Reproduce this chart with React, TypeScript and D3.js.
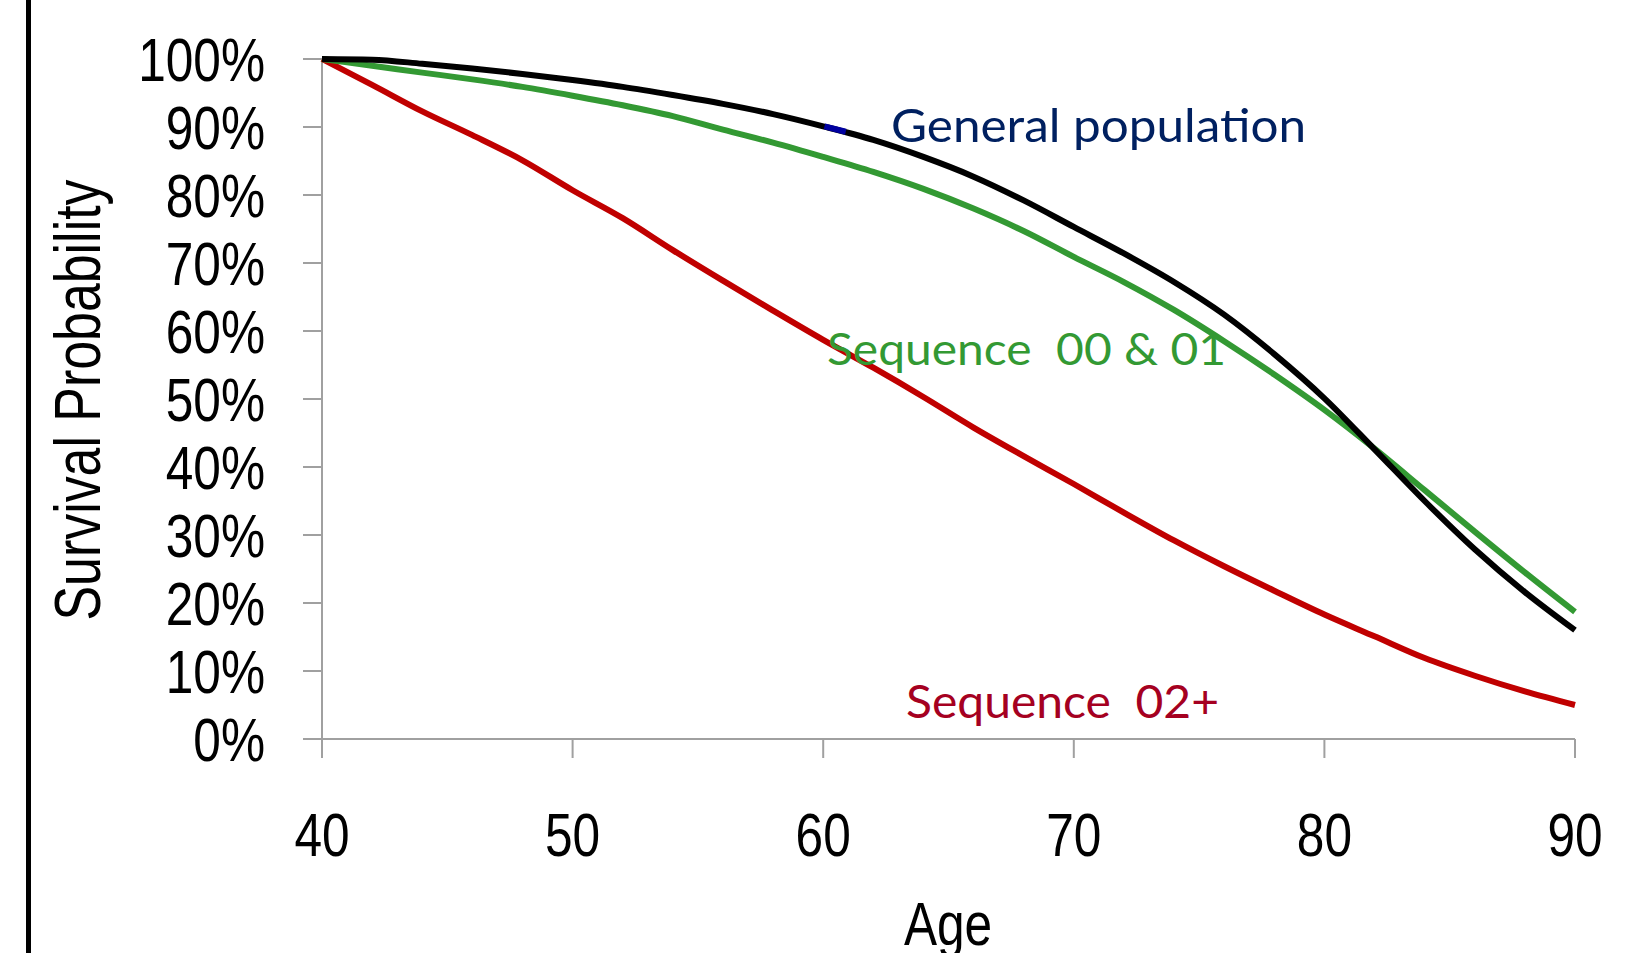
import * as d3 from "d3";

const ages = [40, 42, 44, 46, 48, 50, 52, 54, 56, 58, 60, 62, 64, 66, 68, 70, 72, 74, 76, 78, 80, 82, 84, 86, 88, 90];
const generalPop = [100, 99.9, 99.3, 98.6, 97.8, 96.9, 95.9, 94.7, 93.4, 91.9, 90.1, 88.1, 85.6, 82.7, 79.2, 75.3, 71.4, 67.2, 62.4, 56.6, 50.1, 42.6, 35.0, 27.9, 21.6, 16.0];
const seq0001 = [100, 99.0, 98.0, 97.0, 95.9, 94.6, 93.2, 91.6, 89.6, 87.7, 85.6, 83.4, 80.9, 78.0, 74.7, 70.9, 67.2, 63.1, 58.5, 53.6, 48.4, 42.7, 36.6, 30.5, 24.5, 18.7];
const seq02 = [100, 96.2, 92.3, 88.8, 85.1, 80.7, 76.6, 71.9, 67.4, 63.0, 58.7, 54.6, 50.3, 45.8, 41.6, 37.5, 33.3, 29.2, 25.4, 21.8, 18.3, 15.1, 11.9, 9.3, 7.0, 5.0];
const xTicks = [40, 50, 60, 70, 80, 90];
const yTicks = [0, 10, 20, 30, 40, 50, 60, 70, 80, 90, 100];

const W = 1647, H = 953;
const narrow = "'Liberation Sans', Arial, sans-serif";
const labelFont = "Lato, 'Open Sans', sans-serif";
const axisColor = "#a0a0a0";
const squeeze = 0.8;

export default function App() {
  const x = d3.scaleLinear([40, 90], [322, 1575]);
  const y = d3.scaleLinear([0, 100], [739, 59]);
  const line = d3.line<number>()
    .x((_, i) => x(ages[i]))
    .y((d) => y(d))
    .curve(d3.curveMonotoneX);

  const series = [
    { name: "seq02", values: seq02, color: "#c00000" },
    { name: "seq0001", values: seq0001, color: "#339933" },
    { name: "general", values: generalPop, color: "#000000" },
  ];

  return (
    <svg width={W} height={H} style={{ position: "absolute", left: 0, top: 0, background: "#fff" }}>
      <rect x={26} y={0} width={5} height={H} fill="#000" />

      {/* axes */}
      <line x1={x(40)} x2={x(40)} y1={y(100)} y2={y(0) + 19} stroke={axisColor} strokeWidth={2} />
      <line x1={x(40) - 19} x2={x(90)} y1={y(0)} y2={y(0)} stroke={axisColor} strokeWidth={2} />
      {yTicks.map((t) => (
        <g key={"y" + t}>
          <line x1={x(40) - 19} x2={x(40)} y1={y(t)} y2={y(t)} stroke={axisColor} strokeWidth={2} />
          <g transform={`translate(265,${y(t) + 22}) scale(${squeeze},1)`}>
            <text textAnchor="end" fontFamily={narrow} fontSize={62} fill="#000">{t + "%"}</text>
          </g>
        </g>
      ))}
      {xTicks.map((t) => (
        <g key={"x" + t}>
          <line x1={x(t)} x2={x(t)} y1={y(0)} y2={y(0) + 19} stroke={axisColor} strokeWidth={2} />
          <g transform={`translate(${x(t)},856) scale(${squeeze},1)`}>
            <text textAnchor="middle" fontFamily={narrow} fontSize={62} fill="#000">{t}</text>
          </g>
        </g>
      ))}

      <text transform="translate(100,400) rotate(-90)" textAnchor="middle" fontFamily={narrow} fontSize={64}
        textLength={441} lengthAdjust="spacingAndGlyphs" fill="#000">
        Survival Probability
      </text>
      <g transform={`translate(948,945) scale(${squeeze},1)`}>
        <text textAnchor="middle" fontFamily={narrow} fontSize={62} fill="#000">Age</text>
      </g>

      {/* curves */}
      {series.map((s) => (
        <path key={s.name} d={line(s.values) ?? ""} fill="none" stroke={s.color} strokeWidth={6}
          strokeLinejoin="round" />
      ))}
      <line x1={x(60.05)} y1={y(90.1)} x2={x(60.9)} y2={y(89.3)} stroke="#0000a0" strokeWidth={6} />

      {/* labels */}
      <text x={891} y={142} fontFamily={labelFont} fontSize={47} fill="#002060"
        textLength={415} lengthAdjust="spacingAndGlyphs">General population</text>
      <text x={827} y={365} fontFamily={labelFont} fontSize={45} fill="#339933" xmlSpace="preserve"
        textLength={399} lengthAdjust="spacingAndGlyphs">{"Sequence  00 & 01"}</text>
      <text x={906} y={718} fontFamily={labelFont} fontSize={46} fill="#a50021" xmlSpace="preserve"
        textLength={313} lengthAdjust="spacingAndGlyphs">{"Sequence  02+"}</text>
    </svg>
  );
}
